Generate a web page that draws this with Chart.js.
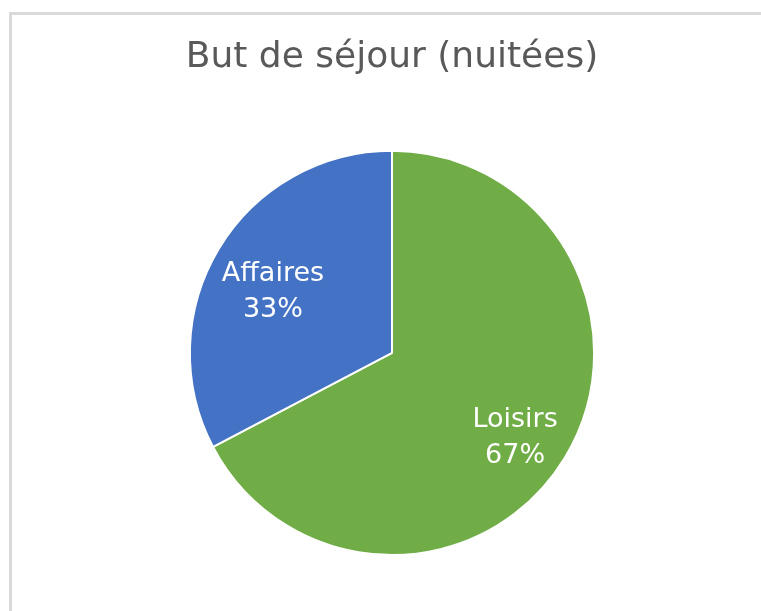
<!DOCTYPE html>
<html lang="fr">
<head>
    <meta charset="UTF-8">
    <title>But de séjour (nuitées)</title>
    <script src="https://cdn.jsdelivr.net/npm/chart.js"></script>
    <style>
        body {
            margin: 0;
            width: 761px;
            height: 611px;
            overflow: hidden;
            background: #ffffff;
            font-family: "DejaVu Sans", Arial, sans-serif;
        }
        .frame {
            position: absolute;
            left: 9px;
            top: 12px;
            width: 760px;
            height: 610px;
            border-top: 3px solid #d9d9d9;
            border-left: 3px solid #d9d9d9;
        }
        .chart-container {
            position: absolute;
            left: 0;
            top: 0;
            width: 761px;
            height: 611px;
        }
    </style>
</head>
<body>
    <div class="frame"></div>
    <div class="chart-container">
        <canvas id="pieChart"></canvas>
    </div>

    <script>
        // Données
        const categories = ['Loisirs', 'Affaires'];
        const nuitees = [67.3, 32.7];
        const percentLabels = ['67%', '33%'];
        const colors = ['#70AD47', '#4472C4'];

        const labelFont = '27px "DejaVu Sans", Arial, sans-serif';

        // Étiquettes dans les parts (nom + pourcentage)
        const sliceLabels = {
            id: 'sliceLabels',
            afterDatasetsDraw(chart) {
                const ctx = chart.ctx;
                const meta = chart.getDatasetMeta(0);
                ctx.save();
                ctx.fillStyle = '#ffffff';
                ctx.font = labelFont;
                ctx.textAlign = 'center';
                ctx.textBaseline = 'middle';
                meta.data.forEach((arc, i) => {
                    const p = arc.getProps(['x', 'y', 'startAngle', 'endAngle', 'outerRadius'], true);
                    const mid = (p.startAngle + p.endAngle) / 2;
                    const r = p.outerRadius * 0.7;
                    const cx = p.x + Math.cos(mid) * r + 2;
                    const cy = p.y + Math.sin(mid) * r + 12;
                    ctx.fillText(categories[i], cx, cy - 18);
                    ctx.fillText(percentLabels[i], cx, cy + 18);
                });
                ctx.restore();
            }
        };

        const ctx = document.getElementById('pieChart').getContext('2d');
        new Chart(ctx, {
            type: 'pie',
            data: {
                labels: categories,
                datasets: [{
                    data: nuitees,
                    backgroundColor: colors,
                    borderColor: '#ffffff',
                    borderWidth: 2
                }]
            },
            options: {
                responsive: true,
                maintainAspectRatio: false,
                animation: false,
                layout: {
                    padding: { top: 0, bottom: 55, left: 23, right: 0 }
                },
                plugins: {
                    legend: { display: false },
                    tooltip: { enabled: false },
                    title: {
                        display: true,
                        text: 'But de séjour (nuitées)',
                        color: '#595959',
                        font: { family: '"DejaVu Sans", Arial, sans-serif', size: 36, weight: 'normal', lineHeight: 1.2 },
                        padding: { top: 36, bottom: 70.6 }
                    }
                }
            },
            plugins: [sliceLabels]
        });
    </script>
</body>
</html>
